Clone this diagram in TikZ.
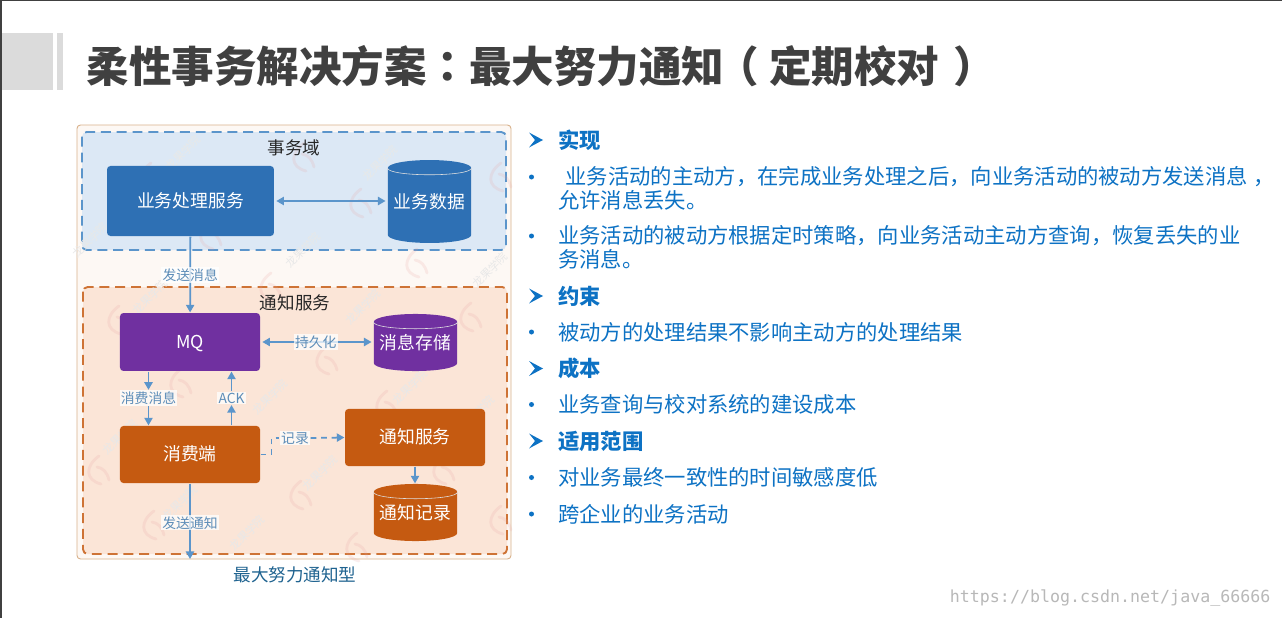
\documentclass[tikz,border=0pt]{standalone}
\usepackage{fontspec}
\usepackage{xcolor}
\usetikzlibrary{arrows.meta, calc, positioning, shapes.geometric}
\setmainfont{Noto Sans CJK SC}
\setmonofont{DejaVu Sans Mono}
\newfontfamily\puncfont{Noto Sans CJK KR}
\newfontfamily\parenfont{Noto Sans CJK TC}
\newcommand{\pc}[1]{{\puncfont #1}}
\newcommand{\pr}[1]{{\parenfont #1}}
\definecolor{bizblue}{HTML}{2E70B4}
\definecolor{mqpurple}{HTML}{7030A0}
\definecolor{consorange}{HTML}{C55A11}
\definecolor{flowblue}{HTML}{5B95CB}
\definecolor{labelblue}{HTML}{5D8DB8}
\definecolor{textblue}{HTML}{0D72C4}
\definecolor{bizzonefill}{HTML}{DCE8F5}
\definecolor{notifyzonefill}{HTML}{FBE5D7}
\definecolor{framefill}{HTML}{FDF8F4}
\definecolor{captionblue}{HTML}{1F6390}
\definecolor{markpink}{HTML}{E8A0A0}
\tikzset{
    svcbox/.style={rounded corners=3pt, text=white, font=\fontsize{15.2}{16}\selectfont, inner sep=0pt, text height=12pt, text depth=1pt},
    dbnode/.style={cylinder, shape border rotate=90, aspect=0.22, anchor=shape center, inner sep=0pt, minimum width=71pt,
        font=\fontsize{15.2}{16}\selectfont},
    dbtext/.style={text=white, font=\fontsize{15.2}{16}\selectfont, inner sep=0pt},
    flowarrow/.style={draw=flowblue, line width=1.5pt, {Triangle[width=7pt,length=6.5pt]}-{Triangle[width=7pt,length=6.5pt]}},
    oneway/.style={draw=flowblue, line width=1.5pt, -{Triangle[width=7pt,length=6.5pt]}},
    flowlabel/.style={fill=white, fill opacity=0.75, text opacity=1, text=labelblue, inner sep=1pt, font=\fontsize{11.8}{13}\selectfont},
    zonetitle/.style={font=\fontsize{15}{16}\selectfont, text=black!85, inner sep=0pt},
    headline/.style={anchor=west, text=textblue, font=\fontsize{18.2}{20}\selectfont\bfseries},
    bodyline/.style={anchor=west, text=textblue, font=\fontsize{18.2}{19.6}\selectfont, align=left, inner sep=0pt},
    chevron/.style={fill=textblue},
    wmtext/.style={rotate=45, text=black!9, inner sep=0pt, font=\fontsize{9.5}{10}\selectfont}
}
\begin{document}
\begin{tikzpicture}[x=0.03cm, y=-0.03cm, line width=1pt]
    \useasboundingbox (0,0) rectangle (1282,618);
    \fill[white] (0,0) rectangle (1282,618);
    % page edge and title
    \fill[black!75] (0,0) rectangle (1282,1.5);
    \fill[black!75] (0,0) rectangle (2,618);
    \fill[black!14] (2,33) rectangle (53,90);
    \fill[black!14] (57,33) rectangle (63,90);
    \node[anchor=west, inner sep=0pt, text=black!75, font=\fontsize{36.3}{38}\selectfont\bfseries] (title) at (86,66)
        {柔性事务解决方案\pc{：}最大努力通知\hspace{-0.2em}\pr{（}\hspace{0.25em}定期校对\hspace{0.33em}\pr{）}};

    % left diagram, the zones first
    \draw[draw=brown!60, fill=framefill, line width=0.8pt, rounded corners=3pt] (77,125) rectangle (511,559);
    \draw[fill=bizzonefill, draw=flowblue, dash pattern=on 8.5pt off 5pt, line width=1.6pt, rounded corners=4pt] (82,132) rectangle (506,250);
    \draw[fill=notifyzonefill, draw=consorange!85, dash pattern=on 8.5pt off 5pt, line width=1.6pt, rounded corners=4pt] (83,287) rectangle (507,554);

    % watermark of the source slide
    \foreach \mx/\my in {147/177, 207/235, 300/157, 357/203, 413/263, 497/177, 267/287, 115/320, 467/317,
            177/383, 95/470, 150/525, 297/495, 383/405, 440/470, 353/547, 497/520, 323/360}
        \draw[markpink, opacity=0.18, line width=2.4pt, line cap=round, shift={(\mx,\my)}]
            (4,-14) .. controls (-10,-4) and (-10,10) .. (6,14) (2,-3) .. controls (8,-2) and (12,2) .. (14,10);
    \foreach \wx/\wy [count=\wi] in {183/153, 380/163, 90/240, 303/250, 490/270, 150/297, 363/307,
            270/397, 120/437, 410/387, 477/413, 320/473, 180/503, 247/533}
        \node[wmtext] (mark\wi) at (\wx,\wy) {龙果学院};

    \node[zonetitle] (bizzone) at (294,148) {事务域};
    \node[zonetitle] (notifyzone) at (295,303) {通知服务};
    \node[zonetitle, text=captionblue] (caption) at (295,575) {最大努力通知型};

    \node[svcbox, fill=bizblue, minimum width=142.5pt, minimum height=59.8pt] (bizsvc) at (190.5,201) {业务处理服务};
    \node[svcbox, fill=mqpurple, minimum width=119.5pt, minimum height=49.5pt] (mq) at (190,342) {MQ};
    \node[svcbox, fill=consorange, minimum width=119.5pt, minimum height=48.7pt] (consumer) at (190,454.5) {消费端};
    \node[svcbox, fill=consorange, minimum width=119.5pt, minimum height=48.7pt] (notifysvc) at (415,437.5) {通知服务};

    \node[dbnode, fill=bizblue, minimum height=70.8pt] (bizdata) at (429.5,201.5) {\phantom{业务数据}};
    \node[dbnode, fill=mqpurple, minimum height=48.7pt] (msgstore) at (415.5,342.5) {\phantom{消息存储}};
    \node[dbnode, fill=consorange, minimum height=48.7pt] (notifylog) at (415.5,512.5) {\phantom{通知记录}};
    \foreach \db/\dbname in {bizdata/业务数据, msgstore/消息存储, notifylog/通知记录}{
        \draw[white!75!gray, line width=0.5pt] (\db.before top) to[out=-90, in=-90, looseness=0.28] (\db.after top);
        \node[dbtext] (\db text) at (\db.shape center) {\dbname};
    }

    % connectors
    \draw[flowarrow, shorten <=1.5pt, shorten >=1.5pt] (bizsvc.east) -- (bizsvc.east -| bizdata.west);
    \draw[oneway] (bizsvc) -- (mq) node[flowlabel, pos=0.5, yshift=-0.5pt] (sendmsg) {发送消息};
    \draw[flowarrow, shorten <=1.5pt, shorten >=1.5pt] (mq.east) -- (mq.east -| msgstore.west) node[flowlabel, midway, xshift=-1pt] (persist) {持久化};
    \node[flowlabel] (consumemsg) at (148.5,398) {消费消息};
    \node[flowlabel] (ack) at (231.5,398) {ACK};
    \draw[oneway] (consumemsg |- mq.south) -- (consumemsg.north);
    \draw[oneway] (consumemsg.south) -- (consumemsg |- consumer.north);
    \draw[oneway] (ack |- consumer.north) -- (ack.south);
    \draw[oneway] (ack.north) -- (ack |- mq.south);
    \node[flowlabel] (record) at (295,438) {记录};
    \draw[draw=flowblue, line width=1.5pt, dash pattern=on 5pt off 4pt] (consumer.east) -- ++(11,0) |- (record.west);
    \draw[oneway, dash pattern=on 5pt off 4pt] (record.east) -- (notifysvc.west);
    \draw[oneway] (notifysvc.south) -- (notifysvc.south |- notifylog.north);
    \coordinate (sendend) at (190,559);
    \draw[oneway] (consumer) -- (sendend) node[flowlabel, pos=0.52] (sendnotice) {发送通知};

    % right column
    \foreach \cy/\cname/\ctext in {140/cfirst/实现, 296/csecond/约束, 368.5/cthird/成本, 441/cfourth/适用范围}{
        \fill[chevron] (529,\cy-7.5) -- (543,\cy) -- (529,\cy+7.5) -- (535,\cy) -- cycle;
        \node[headline, inner sep=0pt] (\cname) at (557.5,\cy) {\ctext};
    }
    \foreach \by in {177, 236, 332, 404.5, 477.5, 514}
        \fill[textblue] (531.5,\by) circle[radius=2.5];
    \node[bodyline] (impla) at (565,177) {业务活动的主动方\pc{，}在完成业务处理之后\pc{，}向业务活动的被动方发送消息\hspace{0.25em}\pc{，}};
    \node[bodyline] (implb) at (557.5,200) {允许消息丢失。};
    \node[bodyline] (implc) at (557.5,236) {业务活动的被动方根据定时策略\pc{，}向业务活动主动方查询\pc{，}恢复丢失的业};
    \node[bodyline] (impld) at (557.5,259) {务消息。};
    \node[bodyline] (limita) at (557.5,332) {被动方的处理结果不影响主动方的处理结果};
    \node[bodyline] (costa) at (557.5,404.5) {业务查询与校对系统的建设成本};
    \node[bodyline] (scopea) at (557.5,477.5) {对业务最终一致性的时间敏感度低};
    \node[bodyline] (scopeb) at (557.5,514) {跨企业的业务活动};
    \node[anchor=east, inner sep=0pt, text=black!28, font=\ttfamily\fontsize{14.2}{15}\selectfont] (siteurl) at (1271,598) {https://blog.csdn.net/java\_66666};
\end{tikzpicture}
\end{document}
